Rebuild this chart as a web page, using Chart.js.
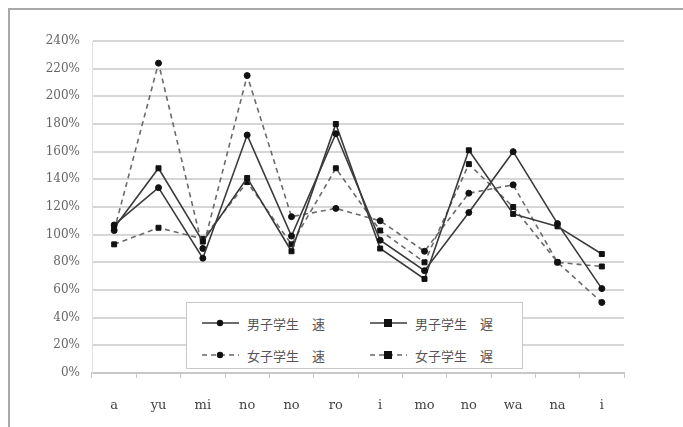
<!DOCTYPE html>
<html lang="ja">
<head>
<meta charset="utf-8">
<script src="https://cdn.jsdelivr.net/npm/chart.js@4/dist/chart.umd.min.js"></script>
<style>
  html, body { margin: 0; padding: 0; background: #fff; }
  #wrap { position: relative; width: 683px; height: 427px; overflow: hidden; }
  #frame { position: absolute; left: 8px; top: 8px; width: 700px; height: 440px;
           border-top: 2px solid #a8a8a8; border-left: 2px solid #a8a8a8; }
  canvas { position: absolute; left: 0; top: 0; }
  #legend { position: absolute; left: 186px; top: 302px; width: 337px; height: 67px;
            background: #fff; border: 1px solid #c8c8c8; box-sizing: border-box;
            font-family: "Noto Sans CJK JP", sans-serif; font-size: 13px; color: #555; }
  .item { position: absolute; display: flex; align-items: center; height: 20px; }
  .item svg { margin-right: 6px; }
</style>
</head>
<body>
<div id="wrap">
  <div id="frame"></div>
  <canvas id="c" width="683" height="427"></canvas>
  <div id="legend"></div>
</div>
<script>
// syllables along the horizontal axis
const categories = ['a', 'yu', 'mi', 'no', 'no', 'ro', 'i', 'mo', 'no', 'wa', 'na', 'i'];

// ratios in percent for each group
const boysFast  = [107, 134, 83, 172, 99, 173, 96, 74, 116, 160, 108, 61];
const boysSlow  = [105, 148, 95, 141, 88, 180, 90, 68, 161, 115, 106, 86];
const girlsFast = [103, 224, 90, 215, 113, 119, 110, 88, 130, 136, 80, 51];
const girlsSlow = [93, 105, 97, 138, 93, 148, 103, 80, 151, 120, 80, 77];

const seriesNames = ['男子学生　速', '男子学生　遅', '女子学生　速', '女子学生　遅'];
const yTicks = [0, 20, 40, 60, 80, 100, 120, 140, 160, 180, 200, 220, 240];

const solid = '#3a3a3a', dashedCol = '#6a6a6a';
const styles = [
  { color: solid, dash: [], marker: 'circle', r: 3 },
  { color: solid, dash: [], marker: 'rect', r: 3.5 },
  { color: dashedCol, dash: [5, 4], marker: 'circle', r: 3 },
  { color: dashedCol, dash: [5, 4], marker: 'rect', r: 3.5 }
];
const values = [boysFast, boysSlow, girlsFast, girlsSlow];

const datasets = values.map((v, i) => ({
  label: seriesNames[i],
  data: v,
  borderColor: styles[i].color,
  borderWidth: 1.6,
  borderDash: styles[i].dash,
  pointStyle: styles[i].marker,
  pointRadius: styles[i].r,
  pointBackgroundColor: '#111',
  pointBorderColor: '#111',
  pointBorderWidth: 1,
  tension: 0,
  fill: false
}));

new Chart(document.getElementById('c'), {
  type: 'line',
  data: { labels: categories, datasets },
  options: {
    responsive: false,
    animation: false,
    layout: { padding: { left: 0, right: 59, top: 41, bottom: 0 } },
    plugins: { legend: { display: false }, tooltip: { enabled: false } },
    scales: {
      x: {
        offset: true,
        grid: { display: true, drawOnChartArea: false, drawTicks: true, tickLength: 5, color: '#c8c8c8', offset: true },
        border: { display: true, color: '#c8c8c8', width: 2 },
        ticks: { padding: 20, color: '#444', font: { family: '"DejaVu Serif", serif', size: 13 } },
        afterFit: s => { s.height = 54; }
      },
      y: {
        min: 0, max: 240,
        afterBuildTicks: s => { s.ticks = yTicks.map(v => ({ value: v })); },
        grid: { color: '#d6d6d6', lineWidth: 2, drawTicks: false },
        border: { display: true, color: '#e0e0e0', width: 1 },
        ticks: { padding: 12, color: '#666', callback: v => v + '%',
                 font: { family: '"DejaVu Serif", serif', size: 12 } },
        afterFit: s => { s.width = 92; }
      }
    }
  }
});

// legend drawn as HTML over the plot
const legend = document.getElementById('legend');
const pos = [[14, 10], [182, 10], [14, 42], [182, 42]];
seriesNames.forEach((name, i) => {
  const st = styles[i];
  const mk = st.marker === 'circle'
    ? '<circle cx="19" cy="6" r="3.2" fill="#111"/>'
    : '<rect x="15" y="2" width="8" height="8" fill="#111"/>';
  const dash = st.dash.length ? 'stroke-dasharray="5,4"' : '';
  const item = document.createElement('div');
  item.className = 'item';
  item.style.left = pos[i][0] + 'px';
  item.style.top = pos[i][1] + 'px';
  item.innerHTML = '<svg width="40" height="12"><line x1="1" y1="6" x2="38" y2="6" stroke="' + st.color +
    '" stroke-width="1.5" ' + dash + '/>' + mk + '</svg><span>' + name + '</span>';
  legend.appendChild(item);
});
</script>
</body>
</html>
